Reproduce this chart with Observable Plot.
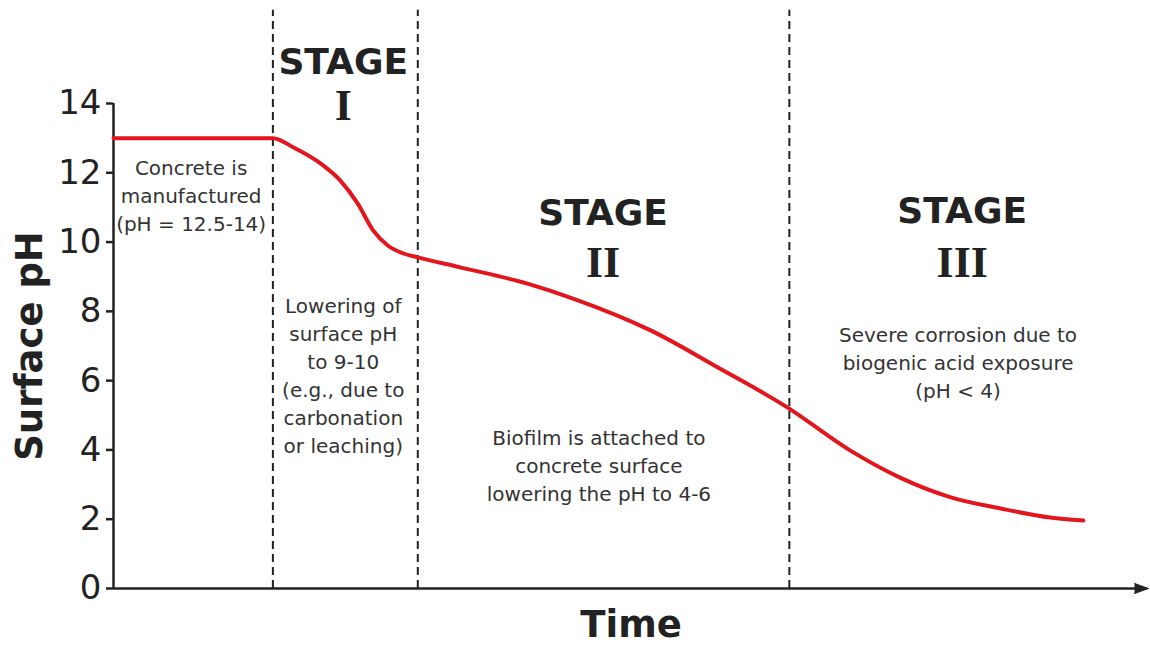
<!DOCTYPE html>
<html>
<head>
<meta charset="utf-8">
<script src="https://cdn.jsdelivr.net/npm/d3@7"></script>
<script src="https://cdn.jsdelivr.net/npm/@observablehq/plot@0.6"></script>
<style>
  html, body { margin: 0; padding: 0; background: #fff; }
  #chart { width: 1150px; height: 645px; }
</style>
</head>
<body>
<div id="chart"></div>
<script>
// ---- data ----
const time = [0, 15.4, 17.4, 20.0, 21.9, 23.6, 25.1, 26.5, 28.0, 29.4, 33.5, 40.0, 44.4, 51.9, 58.4, 65.1, 71.2, 76.0, 80.9, 85.7, 90.5, 93.7];
const surfacePH = [13.0, 13.0, 12.73, 12.27, 11.78, 11.11, 10.33, 9.90, 9.67, 9.56, 9.27, 8.80, 8.37, 7.45, 6.38, 5.23, 3.98, 3.20, 2.63, 2.31, 2.05, 1.96];
const stageBoundaries = [15.4, 29.4, 65.3];
const yTicks = [0, 2, 4, 6, 8, 10, 12, 14];
const stageNames = ["STAGE", "STAGE", "STAGE"];
const stageNumerals = ["I", "II", "III"];
const stageX = [22.2, 47.3, 82.0];
const stageNameY = [15.18, 10.83, 10.88];
const stageNumeralY = [13.94, 9.41, 9.41];
const noteTexts = [
  "Concrete is\nmanufactured\n(pH = 12.5-14)",
  "Lowering of\nsurface pH\nto 9-10\n(e.g., due to\ncarbonation\nor leaching)",
  "Biofilm is attached to\nconcrete surface\nlowering the pH to 4-6",
  "Severe corrosion due to\nbiogenic acid exposure\n(pH < 4)"
];
const noteX = [7.5, 22.2, 46.9, 81.6];
const noteY = [11.40, 6.19, 3.59, 6.58];

// ---- tables ----
const curve = time.map((t, i) => ({t, ph: surfacePH[i]}));
const stages = stageX.map((x, i) => ({x, name: stageNames[i], num: stageNumerals[i], ny: stageNameY[i], my: stageNumeralY[i]}));
const notes = noteTexts.map((text, i) => ({text, x: noteX[i], y: noteY[i]}));

const ink = "#222";

const chart = Plot.plot({
  width: 1150,
  height: 645,
  marginLeft: 113,
  marginRight: 2,
  marginTop: 103,
  marginBottom: 57,
  style: {fontFamily: "DejaVu Sans", background: "#fff", overflow: "visible"},
  x: {domain: [0, 100], axis: null},
  y: {domain: [0, 14], axis: null},
  marks: [
    // stage dividers
    Plot.ruleX(stageBoundaries, {y1: 0, y2: 16.69, stroke: ink, strokeWidth: 2, strokeDasharray: "8,5"}),
    // axes lines
    Plot.ruleX([0], {y1: 0, y2: 14, stroke: ink, strokeWidth: 2.5}),
    Plot.ruleY([0], {x1: 0, x2: 99, stroke: ink, strokeWidth: 2.5}),
    Plot.vector([{x: 100, y: 0}], {x: "x", y: "y", length: 14, r: 5, rotate: 90, anchor: "end", shape: "spike", fill: ink, stroke: ink, strokeWidth: 1}),
    Plot.axisY({ticks: yTicks, tickSize: 7, tickPadding: 5, strokeWidth: 2.5, stroke: ink, fill: ink, fontSize: 34, label: null}),
    // axis titles
    Plot.text(["Surface pH"], {frameAnchor: "left", y: 7, dx: -83, rotate: -90, textAnchor: "middle", lineAnchor: "middle", fontSize: 37, fontWeight: "bold", fill: ink}),
    Plot.text(["Time"], {frameAnchor: "bottom", x: 50, dy: 37, lineAnchor: "middle", fontSize: 37, fontWeight: "bold", fill: ink}),
    // curve
    Plot.line(curve, {x: "t", y: "ph", curve: "monotone-x", stroke: "#e3161d", strokeWidth: 4}),
    // stage titles
    Plot.text(stages, {x: "x", y: "ny", text: "name", fontSize: 36, fontWeight: "bold", fill: ink}),
    Plot.text(stages, {x: "x", y: "my", text: "num", fontSize: 44, fontWeight: "bold", fontFamily: "Liberation Serif", fill: ink}),
    // notes
    Plot.text(notes, {x: "x", y: "y", text: "text", fontSize: 20, lineHeight: 1.4, fill: "#333"})
  ]
});
document.getElementById("chart").appendChild(chart);
</script>
</body>
</html>
